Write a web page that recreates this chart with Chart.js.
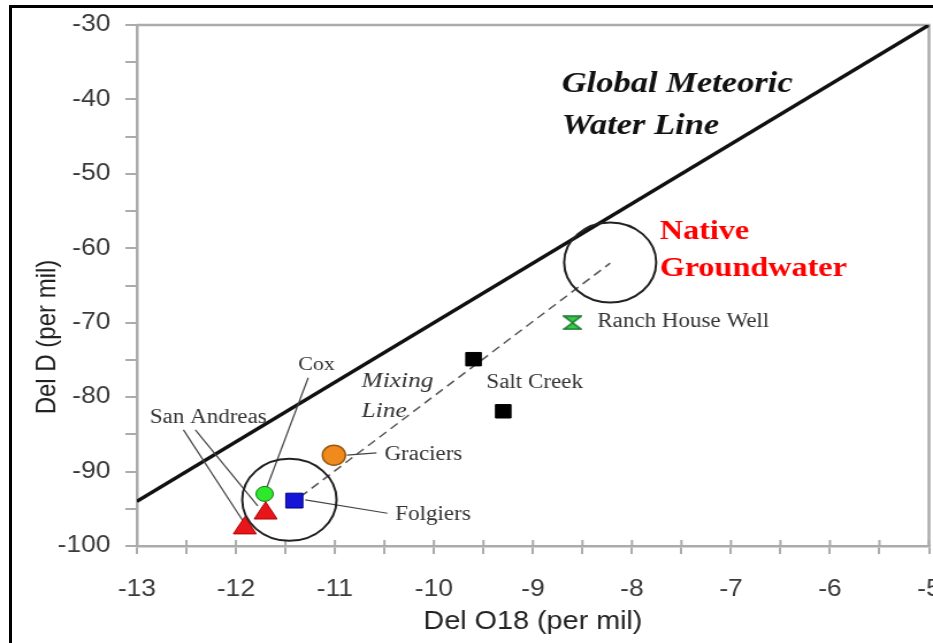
<!DOCTYPE html>
<html>
<head>
<meta charset="utf-8">
<script src="https://cdn.jsdelivr.net/npm/chart.js@4.4.1/dist/chart.umd.min.js"></script>
<style>
  html, body { margin: 0; padding: 0; background: #fff; overflow: hidden; }
  #wrap { position: relative; width: 933px; height: 643px; }
  #c { position: absolute; left: 0; top: 0; }
  #frame { position: absolute; left: 9px; top: 5px; width: 950px; height: 670px;
           border-left: 3px solid #000; border-top: 3px solid #000; pointer-events: none; }
</style>
</head>
<body>
<div id="wrap">
  <canvas id="c" width="811" height="643" style="width:933px;height:643px"></canvas>
  <div id="frame"></div>
</div>
<script>
// axes
const xMin = -13, xMax = -5, xStep = 0.5;
const yMin = -100, yMax = -30, yStep = 5;

// sample points (del O18, del D)
const ranchX = [-8.6];          const ranchY = [-70.0];
const saltCreekX = [-9.6, -9.3]; const saltCreekY = [-74.9, -81.9];
const graciersX = [-11.01];     const graciersY = [-87.8];
const folgiersX = [-11.41];     const folgiersY = [-93.9];
const coxX = [-11.71];          const coxY = [-93.0];
const sanAndreasX = [-11.7, -11.91]; const sanAndreasY = [-95.6, -97.6];

// end-member circles
const circleX = [-8.22, -11.46]; const circleY = [-61.9, -93.8];
const circleRadius = [40, 41];

// lines
const gmwlX = [-13, -5];           const gmwlY = [-94, -30];
const mixingX = [-11.35, -8.22];   const mixingY = [-93.4, -62.0];

// leader lines [x1, y1, x2, y2]
const leaderCox = [-11.27, -77.4, -11.69, -92.2];
const leaderSanA1 = [-12.53, -84.4, -11.93, -96.6];
const leaderSanA2 = [-12.41, -84.4, -11.78, -94.6];
const leaderGraciers = [-10.88, -87.8, -10.58, -87.5];
const leaderFolgiers = [-11.3, -93.8, -10.47, -95.6];

// text labels
const labelText = ["Global Meteoric", "Water Line", "Native", "Groundwater", "Mixing", "Line",
                   "Cox", "San Andreas", "Graciers", "Folgiers", "Salt Creek", "Ranch House Well"];
const labelX = [-8.71, -8.71, -7.72, -7.72, -10.73, -10.73, -11.37, -12.87, -10.5, -10.39, -9.47, -8.35];
const labelY = [-37.9, -43.6, -57.8, -62.7, -77.8, -81.9, -75.7, -82.8, -87.8, -95.8, -78.0, -69.9];
const labelFont = [
  "italic bold 30px 'Liberation Serif'", "italic bold 30px 'Liberation Serif'",
  "bold 28px 'Liberation Serif'", "bold 28px 'Liberation Serif'",
  "italic 22px 'Liberation Serif'", "italic 22px 'Liberation Serif'",
  "19px 'Liberation Serif'", "20px 'Liberation Serif'", "20px 'Liberation Serif'",
  "20px 'Liberation Serif'", "20px 'Liberation Serif'", "20px 'Liberation Serif'"
];
const labelColor = ["#111", "#111", "#ff0000", "#ff0000", "#333", "#333",
                    "#333", "#333", "#333", "#333", "#333", "#333"];

function pts(xs, ys) {
  return xs.map((x, i) => ({ x: x, y: ys[i] }));
}

function seg(s) {
  return [{ x: s[0], y: s[1] }, { x: s[2], y: s[3] }];
}

// hourglass marker for Ranch House Well
const hourglass = document.createElement("canvas");
hourglass.width = 17;
hourglass.height = 15;
(function () {
  const g = hourglass.getContext("2d");
  g.fillStyle = "#3cc84a";
  g.strokeStyle = "#16782a";
  g.lineWidth = 1.5;
  g.beginPath();
  g.moveTo(1, 1); g.lineTo(16, 1); g.lineTo(8.5, 7.5);
  g.lineTo(16, 14); g.lineTo(1, 14); g.lineTo(8.5, 7.5);
  g.closePath();
  g.fill();
  g.stroke();
})();

const lineColor = "#444";
const axisGray = "#ababab";

function leader(s) {
  return {
    data: seg(s), showLine: true, pointRadius: 0,
    borderColor: lineColor, borderWidth: 1.2
  };
}

const extras = {
  id: "extras",
  beforeDatasetsDraw(chart) {
    const ctx = chart.ctx;
    const a = chart.chartArea;
    const xs = chart.scales.x;
    ctx.save();
    ctx.strokeStyle = axisGray;
    ctx.lineWidth = 2.5;
    ctx.beginPath();
    ctx.moveTo(a.left, a.top);
    ctx.lineTo(a.right, a.top);
    ctx.lineTo(a.right, a.bottom);
    ctx.stroke();

    // x ticks cross the axis: short inner part
    ctx.lineWidth = 2;
    ctx.beginPath();
    xs.ticks.forEach(t => {
      const px = xs.getPixelForValue(t.value);
      ctx.moveTo(px, a.bottom - 6);
      ctx.lineTo(px, a.bottom);
    });
    ctx.stroke();
    ctx.restore();
  },
  afterDatasetsDraw(chart) {
    const ctx = chart.ctx;
    const xs = chart.scales.x, ys = chart.scales.y;
    const a = chart.chartArea;
    ctx.save();
    ctx.textBaseline = "middle";
    ctx.textAlign = "left";
    labelText.forEach((t, i) => {
      ctx.font = labelFont[i];
      ctx.fillStyle = labelColor[i];
      ctx.fillText(t, xs.getPixelForValue(labelX[i]), ys.getPixelForValue(labelY[i]));
    });

    // axis titles
    ctx.fillStyle = "#222";
    ctx.textAlign = "center";
    ctx.font = "25px 'Liberation Sans'";
    ctx.fillText("Del O18 (per mil)", (a.left + a.right) / 2, 622);
    ctx.translate(41.7, 337);
    ctx.rotate(-Math.PI / 2);
    ctx.font = "24px 'Liberation Sans'";
    ctx.fillText("Del D (per mil)", 0, 0);
    ctx.restore();
  }
};

new Chart(document.getElementById("c"), {
  type: "scatter",
  data: {
    datasets: [
      {
        data: pts(sanAndreasX, sanAndreasY), pointStyle: "triangle", pointRadius: 11.5,
        backgroundColor: "#e8161a", borderColor: "#b00000", borderWidth: 1
      },
      {
        data: pts(coxX, coxY), pointStyle: "circle", pointRadius: 7.5,
        backgroundColor: "#2ee82e", borderColor: "#127a12", borderWidth: 1
      },
      {
        data: pts(folgiersX, folgiersY), pointStyle: "rect", pointRadius: 10.5,
        backgroundColor: "#1515d8", borderColor: "#000080", borderWidth: 1
      },
      {
        data: pts(graciersX, graciersY), pointStyle: "circle", pointRadius: 10,
        backgroundColor: "#f08a1c", borderColor: "#9a5a10", borderWidth: 1.5
      },
      {
        data: pts(saltCreekX, saltCreekY), pointStyle: "rect", pointRadius: 9.5,
        backgroundColor: "#000", borderColor: "#000", borderWidth: 1
      },
      {
        data: pts(ranchX, ranchY), pointStyle: hourglass
      },
      {
        data: pts(circleX, circleY), pointStyle: "circle", pointRadius: circleRadius,
        backgroundColor: "rgba(0,0,0,0)", borderColor: "#222", borderWidth: 2
      },
      leader(leaderCox),
      leader(leaderSanA1),
      leader(leaderSanA2),
      leader(leaderGraciers),
      leader(leaderFolgiers),
      {
        data: pts(mixingX, mixingY), showLine: true, pointRadius: 0,
        borderColor: "#555", borderWidth: 1.5, borderDash: [8, 5]
      },
      {
        data: pts(gmwlX, gmwlY), showLine: true, pointRadius: 0,
        borderColor: "#111", borderWidth: 3.5
      }
    ]
  },
  options: {
    responsive: false,
    animation: false,
    devicePixelRatio: 1,
    layout: { autoPadding: false, padding: { left: 0, right: 3.5, top: 25, bottom: 0 } },
    plugins: {
      legend: { display: false },
      tooltip: { enabled: false }
    },
    scales: {
      x: {
        type: "linear",
        min: xMin,
        max: xMax,
        afterFit: function (scale) {
          scale.height = 97;
          scale.paddingLeft = 0;
          scale.paddingRight = 0;
        },
        border: { display: true, color: axisGray, width: 2.5 },
        grid: { drawOnChartArea: false, drawTicks: true, tickLength: 8, color: axisGray, lineWidth: 2 },
        ticks: {
          stepSize: xStep,
          autoSkip: false,
          maxRotation: 0,
          padding: 22,
          color: "#3a3a3a",
          font: { family: "'Liberation Sans'", size: 23 },
          callback: function (value) {
            return Number.isInteger(value) ? String(value) : "";
          }
        }
      },
      y: {
        type: "linear",
        min: yMin,
        max: yMax,
        afterFit: function (scale) {
          scale.width = 119;
          scale.paddingTop = 0;
          scale.paddingBottom = 0;
        },
        border: { display: true, color: axisGray, width: 2.5 },
        grid: { drawOnChartArea: false, drawTicks: true, tickLength: 10, color: axisGray, lineWidth: 2 },
        ticks: {
          stepSize: yStep,
          autoSkip: false,
          padding: 13,
          color: "#3a3a3a",
          font: { family: "'Liberation Sans'", size: 23 },
          callback: function (value) {
            return value % 10 === 0 ? String(value) : "";
          }
        }
      }
    }
  },
  plugins: [extras]
});
</script>
</body>
</html>
